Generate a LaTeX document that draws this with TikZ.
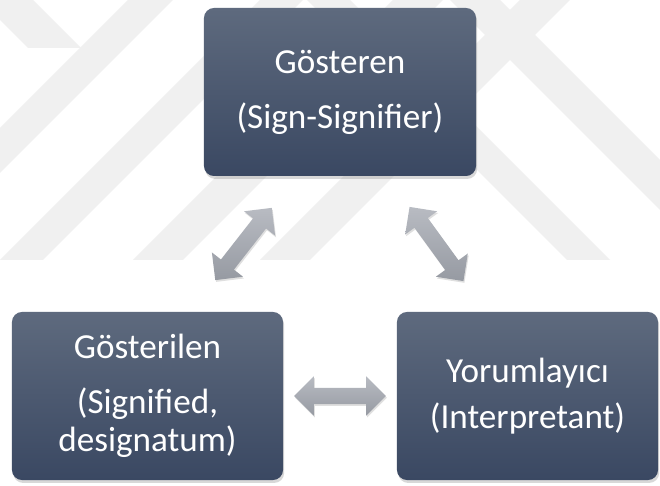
\documentclass[tikz,border=0pt]{standalone}
\usepackage{fontspec}
\setmainfont{Carlito}
\usetikzlibrary{shapes.arrows,shadows}
\definecolor{box-top}{RGB}{94,106,126}
\definecolor{box-bottom}{RGB}{58,72,98}
\definecolor{arrow-top}{RGB}{184,187,194}
\definecolor{arrow-bottom}{RGB}{150,154,162}
\definecolor{mark-grey}{RGB}{240,240,240}
\tikzset{
    sign-box/.style = {rectangle, rounded corners=8.5pt, top color=box-top, bottom color=box-bottom, text=white, align=center, inner sep=0pt, font=\fontsize{30}{32}\selectfont, drop shadow={shadow xshift=1pt, shadow yshift=-2.5pt, opacity=0.3}},
    sign-arrow/.style = {double arrow, top color=arrow-top, bottom color=arrow-bottom, inner xsep=0pt, inner ysep=0.24cm, minimum height=2.75cm, double arrow head extend=0.345cm, drop shadow={shadow xshift=0.8pt, shadow yshift=-1.5pt, opacity=0.25}},
    mark-band/.style = {fill=mark-grey},
}

\begin{document}
\begin{tikzpicture}[x=0.03cm, y=-0.03cm]
\useasboundingbox[fill=white] (0,0) rectangle (660,486);
% faint watermark
\begin{scope}
\clip (0,0) rectangle (660,260);
\foreach \a/\b in {-132/-87, 0/43, 133/183, 260/310}
    \path[mark-band] (\a,260) -- (\b,260) -- (\b+260,0) -- (\a+260,0) -- cycle;
\path[mark-band] (567,260) -- (610,260) -- (350,0) -- (307,0) -- cycle;
\path[mark-band] (450,0) -- (500,0) -- (760,260) -- (710,260) -- cycle;
\path[mark-band] (-20,0) -- (33,0) -- (81,48) -- (28,48) -- cycle;
\end{scope}

\node[sign-box, minimum width=8.16cm, minimum height=5.04cm] (sign) at (340,92) {G\"osteren\\[15pt](Sign-Signifier)};
\node[sign-box, minimum width=8.13cm, minimum height=5.04cm] (signified) at (147.5,396) {G\"osterilen\\[15pt](Signified,\\designatum)};
\node[sign-box, minimum width=7.83cm, minimum height=5.04cm] (interpretant) at (527.5,396) {Yorumlayıcı\\[7pt](Interpretant)};

\path (signified.north east) -- (sign.south west) node[midway, sign-arrow, rotate=52] (a1) {};
\path (sign.south east) -- (interpretant.north west) node[midway, sign-arrow, rotate=-54] (a2) {};
\path (signified.east) -- (interpretant.west) node[midway, sign-arrow] (a3) {};
\end{tikzpicture}
\end{document}
